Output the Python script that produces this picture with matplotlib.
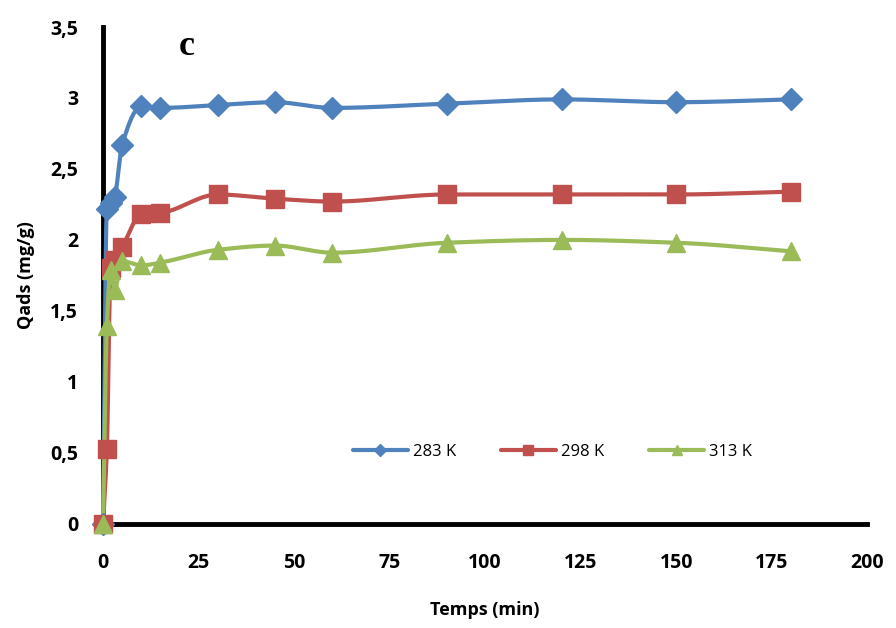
import numpy as np
import matplotlib
matplotlib.use("Agg")
import matplotlib.pyplot as plt
from matplotlib.ticker import FuncFormatter

# Kinetics data: adsorbed quantity vs contact time
times = [0, 1, 2, 3, 5, 10, 15, 30, 45, 60, 90, 120, 150, 180]
q_283 = [0, 2.22, 2.26, 2.30, 2.67, 2.94, 2.93, 2.95, 2.97, 2.93, 2.96, 2.99, 2.97, 2.99]
q_298 = [0, 0.53, 1.80, 1.86, 1.95, 2.18, 2.19, 2.32, 2.29, 2.27, 2.32, 2.32, 2.32, 2.34]
q_313 = [0, 1.39, 1.79, 1.65, 1.85, 1.82, 1.84, 1.93, 1.96, 1.91, 1.98, 2.00, 1.98, 1.92]

series_labels = ["283 K", "298 K", "313 K"]
colors = ["#4F81BD", "#C0504D", "#9BBB59"]
markers = ["D", "s", "^"]
marker_sizes = [11, 13, 13]

x_ticks = [0, 25, 50, 75, 100, 125, 150, 175, 200]
y_ticks = [0, 0.5, 1, 1.5, 2, 2.5, 3, 3.5]


# Smoothed curve through the points (monotone cubic Hermite, no overshoot)
def smooth_curve(x, y, n=30):
    x = np.asarray(x, float)
    y = np.asarray(y, float)
    h = np.diff(x)
    d = np.diff(y) / h
    m = np.zeros_like(y)
    m[0], m[-1] = d[0], d[-1]
    for i in range(1, len(x) - 1):
        if d[i - 1] * d[i] > 0:
            w1 = 2 * h[i] + h[i - 1]
            w2 = h[i] + 2 * h[i - 1]
            m[i] = (w1 + w2) / (w1 / d[i - 1] + w2 / d[i])
    xs, ys = [], []
    for i in range(len(x) - 1):
        t = np.linspace(0, 1, n)
        h00 = 2 * t ** 3 - 3 * t ** 2 + 1
        h10 = t ** 3 - 2 * t ** 2 + t
        h01 = -2 * t ** 3 + 3 * t ** 2
        h11 = t ** 3 - t ** 2
        xs.append(x[i] + t * h[i])
        ys.append(h00 * y[i] + h10 * h[i] * m[i] + h01 * y[i + 1] + h11 * h[i] * m[i + 1])
    return np.concatenate(xs), np.concatenate(ys)


plt.rcParams["font.family"] = ["Open Sans", "DejaVu Sans"]

fig = plt.figure(figsize=(8.96, 6.28), dpi=100)
ax = fig.add_axes([0.115, 0.166, 0.853, 0.791])

for q, lab, col, mk, ms in zip([q_283, q_298, q_313], series_labels, colors, markers, marker_sizes):
    sx, sy = smooth_curve(times, q)
    ax.plot(sx, sy, color=col, lw=3, solid_capstyle="round", zorder=2, clip_on=False)
    ax.plot(times, q, linestyle="none", marker=mk, ms=ms, color=col, zorder=3, clip_on=False)
    ax.plot([], [], color=col, lw=3, marker=mk, ms=ms * 0.55, label=lab, solid_capstyle="round")

ax.set_xlim(0, 200)
ax.set_ylim(0, 3.5)
ax.set_xticks(x_ticks)
ax.set_yticks(y_ticks)
ax.yaxis.set_major_formatter(FuncFormatter(lambda v, p: ("%g" % v).replace(".", ",")))
ax.tick_params(length=0, labelsize=14)
ax.tick_params(axis="x", pad=21)
ax.tick_params(axis="y", pad=18)
for lbl in ax.get_xticklabels() + ax.get_yticklabels():
    lbl.set_fontweight("bold")

for s in ["top", "right"]:
    ax.spines[s].set_visible(False)
for s in ["left", "bottom"]:
    ax.spines[s].set_linewidth(3.5)
    ax.spines[s].set_color("black")
    ax.spines[s].set_zorder(1)

ax.set_xlabel("Temps (min)", fontsize=13, fontweight="bold", labelpad=20)
ax.set_ylabel("Qads (mg/g)", fontsize=13, fontweight="bold", labelpad=11)

ax.text(0.109, 0.944, "c", transform=ax.transAxes, fontsize=26, fontweight="bold",
        family="Liberation Serif", va="baseline", ha="center")

ax.legend(loc="center", bbox_to_anchor=(0.588, 0.145), ncol=3, frameon=False,
          fontsize=12, handlelength=3.3, columnspacing=2.7, handletextpad=0.3)

fig.savefig("out.png", dpi=100)
